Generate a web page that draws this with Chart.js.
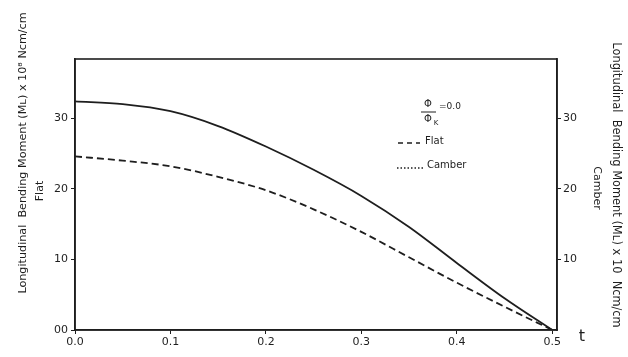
<!DOCTYPE html>
<html>
<head>
<meta charset="utf-8">
<script src="https://cdn.jsdelivr.net/npm/chart.js@4"></script>
<style>
  html, body { margin: 0; padding: 0; background: #fff; }
  #wrap { width: 628px; height: 357px; }
</style>
</head>
<body>
<div id="wrap"><canvas id="momentChart" width="628" height="357"></canvas></div>
<script>
// Значения
const positions = [0, 0.05, 0.1, 0.15, 0.2, 0.25, 0.3, 0.35, 0.4, 0.45, 0.5];
const camberMoment = [32.4, 32.0, 31.0, 28.9, 26.0, 22.7, 19.0, 14.6, 9.5, 4.5, 0];
const flatMoment = [24.6, 24.0, 23.2, 21.7, 19.8, 17.1, 13.9, 10.3, 6.7, 3.3, 0];
const xTicks = [0, 0.1, 0.2, 0.3, 0.4, 0.5];
const xTickLabels = ['0.0', '0.1', '0.2', '0.3', '0.4', '0.5'];
const yTicksLeft = [0, 10, 20, 30];
const yTickLabelsLeft = ['00', '10', '20', '30'];
const yTicksRight = [10, 20, 30];
const leftTitle = 'Longitudinal  Bending Moment (Mʟ) x 10⁸ Ncm/cm';
const rightTitle = 'Longitudinal  Bending Moment (Mʟ) x 10  Ncm/cm';

const ink = '#1e1e1e';
const font = { family: 'DejaVu Sans', size: 11 };

const toPoints = vals => vals.map((v, i) => ({ x: positions[i], y: v }));

// Подписи осей, рамка, легенда
const extras = {
    id: 'extras',
    afterDraw(chart) {
        const c = chart.ctx;
        const a = chart.chartArea;
        c.save();
        c.strokeStyle = ink;
        c.lineWidth = 1.6;
        c.strokeRect(a.left, a.top, a.right - a.left, a.bottom - a.top);

        c.fillStyle = ink;
        c.textAlign = 'center';
        c.textBaseline = 'middle';

        // левая подпись
        c.save();
        c.translate(23, 153);
        c.rotate(-Math.PI / 2);
        c.font = '11.2px DejaVu Sans';
        c.fillText(leftTitle, 0, 0);
        c.restore();
        c.save();
        c.translate(40, 191);
        c.rotate(-Math.PI / 2);
        c.font = '11px DejaVu Sans';
        c.fillText('Flat', 0, 0);
        c.restore();

        // правая подпись
        c.save();
        c.translate(616, 185);
        c.rotate(Math.PI / 2);
        c.font = '11.4px DejaVu Sans';
        c.fillText(rightTitle, 0, 0);
        c.restore();
        c.save();
        c.translate(597, 188);
        c.rotate(Math.PI / 2);
        c.font = '11px DejaVu Sans';
        c.fillText('Camber', 0, 0);
        c.restore();

        // легенда
        c.font = '10px DejaVu Sans';
        c.fillText('Φ', 428, 104);
        c.beginPath();
        c.moveTo(421, 112);
        c.lineTo(436, 112);
        c.lineWidth = 1;
        c.stroke();
        c.fillText('Φ', 428, 119);
        c.font = '7px DejaVu Sans';
        c.fillText('K', 436, 123);
        c.font = '9px DejaVu Sans';
        c.textAlign = 'left';
        c.fillText('=0.0', 439, 107);

        c.lineWidth = 1.3;
        c.setLineDash([5, 4]);
        c.beginPath();
        c.moveTo(398, 143);
        c.lineTo(420, 143);
        c.stroke();
        c.setLineDash([1.5, 2]);
        c.beginPath();
        c.moveTo(397, 168);
        c.lineTo(423, 168);
        c.stroke();
        c.setLineDash([]);
        c.font = '10px DejaVu Sans';
        c.fillText('Flat', 425, 141);
        c.fillText('Camber', 427, 165);

        c.font = '16px DejaVu Sans';
        c.textAlign = 'center';
        c.fillText('t', 582, 337);
        c.restore();
    }
};

const config = {
    type: 'line',
    data: {
        datasets: [{
            label: 'Camber',
            data: toPoints(camberMoment),
            borderColor: ink,
            borderWidth: 1.8,
            pointRadius: 0,
            cubicInterpolationMode: 'monotone',
            yAxisID: 'y'
        }, {
            label: 'Flat',
            data: toPoints(flatMoment),
            borderColor: ink,
            borderWidth: 1.8,
            borderDash: [7, 4],
            pointRadius: 0,
            cubicInterpolationMode: 'monotone',
            yAxisID: 'y'
        }]
    },
    options: {
        responsive: false,
        animation: false,
        layout: { padding: { top: 59, right: 0, left: 0, bottom: 0 } },
        plugins: {
            legend: { display: false },
            tooltip: { enabled: false }
        },
        scales: {
            x: {
                type: 'linear',
                min: 0,
                max: 0.505,
                afterBuildTicks: axis => { axis.ticks = xTicks.map(v => ({ value: v })); },
                afterFit: axis => { axis.height = 27; },
                ticks: {
                    color: ink,
                    font: font,
                    padding: 2,
                    maxRotation: 0,
                    callback: (v) => xTickLabels[xTicks.indexOf(v)]
                },
                grid: { drawOnChartArea: false, tickLength: 4, color: ink },
                border: { color: ink, width: 1.6 }
            },
            y: {
                position: 'left',
                min: 0,
                max: 38.4,
                afterBuildTicks: axis => { axis.ticks = yTicksLeft.map(v => ({ value: v })); },
                afterFit: axis => { axis.width = 75; },
                ticks: {
                    color: ink,
                    font: font,
                    padding: 3,
                    callback: (v) => yTickLabelsLeft[yTicksLeft.indexOf(v)]
                },
                grid: { drawOnChartArea: false, tickLength: 4, color: ink },
                border: { color: ink, width: 1.6 }
            },
            y2: {
                position: 'right',
                min: 0,
                max: 38.4,
                afterBuildTicks: axis => { axis.ticks = yTicksRight.map(v => ({ value: v })); },
                afterFit: axis => { axis.width = 71; },
                ticks: { color: ink, font: font, padding: 2 },
                grid: { drawOnChartArea: false, tickLength: 4, color: ink },
                border: { color: ink, width: 1.6 }
            }
        }
    },
    plugins: [extras]
};

const ctx = document.getElementById('momentChart').getContext('2d');
new Chart(ctx, config);
</script>
</body>
</html>
